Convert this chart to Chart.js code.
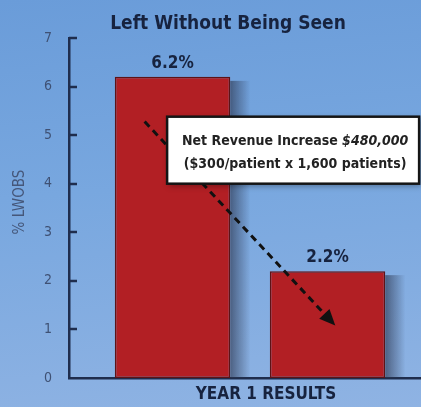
<!DOCTYPE html>
<html>
<head>
<meta charset="utf-8">
<script src="https://cdn.jsdelivr.net/npm/chart.js@4"></script>
<style>
  body { margin: 0; }
  #wrap {
    width: 421px; height: 407px; position: relative;
    background: linear-gradient(175deg, #6a9cd9 0%, #78a7df 45%, #8fb3e3 100%);
  }
</style>
</head>
<body>
<div id="wrap"><canvas id="myChart"></canvas></div>
<script>
// values
const categories = ["Before", "Year 1"];
const lwobs = [6.2, 2.2];
const valueLabels = ["6.2%", "2.2%"];
const yTicks = [0, 1, 2, 3, 4, 5, 6, 7];
const chartTitle = "Left Without Being Seen";
const yTitle = "% LWOBS";
const xTitle = "YEAR 1 RESULTS";
const noteLines = ["Net Revenue Increase ", "$480,000", "($300/patient x 1,600 patients)"];

const FONT = "'Liberation Sans Narrow', 'DejaVu Sans Condensed', Arial, sans-serif";
const NAVY = "#17233f";
const AXIS = "#1f2d4d";

const extras = {
  id: "extras",
  beforeDatasetsDraw(chart) {
    // soft shading to the right of each bar
    const ctx = chart.ctx;
    ctx.save();
    chart.getDatasetMeta(0).data.forEach(function (bar) {
      const right = bar.x + bar.width / 2;
      const g = ctx.createLinearGradient(right, 0, right + 20, 0);
      g.addColorStop(0, "rgba(45, 55, 80, 0.65)");
      g.addColorStop(1, "rgba(45, 55, 80, 0)");
      ctx.fillStyle = g;
      ctx.fillRect(right, bar.y + 4, 20, bar.base - bar.y - 4);
    });
    ctx.restore();
  },
  afterDatasetsDraw(chart) {
    const ctx = chart.ctx;
    const x = chart.scales.x, y = chart.scales.y;
    const area = chart.chartArea;

    // tick marks pointing in
    ctx.save();
    ctx.strokeStyle = AXIS;
    ctx.lineWidth = 2.5;
    yTicks.forEach(function (t) {
      if (t === 0) return;
      const py = Math.round(y.getPixelForValue(t));
      ctx.beginPath();
      ctx.moveTo(area.left, py);
      ctx.lineTo(area.left + 8, py);
      ctx.stroke();
    });
    ctx.restore();

    // value labels
    ctx.save();
    ctx.fillStyle = NAVY;
    ctx.font = "bold 17px " + FONT;
    ctx.textAlign = "center";
    ctx.textBaseline = "bottom";
    chart.getDatasetMeta(0).data.forEach(function (bar, i) {
      ctx.fillText(valueLabels[i], bar.x, bar.y - 5);
    });
    ctx.restore();

    // dashed arrow
    const x0 = x.getPixelForValue(-0.18), y0 = y.getPixelForValue(5.28);
    const x1 = x.getPixelForValue(1.05), y1 = y.getPixelForValue(1.08);
    const ang = Math.atan2(y1 - y0, x1 - x0);
    ctx.save();
    ctx.strokeStyle = "#111";
    ctx.lineWidth = 3;
    ctx.setLineDash([7, 5]);
    ctx.beginPath();
    ctx.moveTo(x0, y0);
    ctx.lineTo(x1 - 10 * Math.cos(ang), y1 - 10 * Math.sin(ang));
    ctx.stroke();
    ctx.setLineDash([]);
    ctx.fillStyle = "#111";
    ctx.beginPath();
    ctx.moveTo(x1, y1);
    ctx.lineTo(x1 - 16 * Math.cos(ang) + 7 * Math.sin(ang), y1 - 16 * Math.sin(ang) - 7 * Math.cos(ang));
    ctx.lineTo(x1 - 16 * Math.cos(ang) - 7 * Math.sin(ang), y1 - 16 * Math.sin(ang) + 7 * Math.cos(ang));
    ctx.closePath();
    ctx.fill();
    ctx.restore();

    // note box
    const bx = x.getPixelForValue(-0.035), by = y.getPixelForValue(5.38);
    const bw = 252, bh = 67;
    ctx.save();
    ctx.shadowColor = "rgba(0,0,0,0.35)";
    ctx.shadowBlur = 6;
    ctx.shadowOffsetX = 2;
    ctx.shadowOffsetY = 2;
    ctx.fillStyle = "#fff";
    ctx.fillRect(bx, by, bw, bh);
    ctx.restore();
    ctx.save();
    ctx.strokeStyle = "#151515";
    ctx.lineWidth = 2.5;
    ctx.strokeRect(bx, by, bw, bh);
    ctx.fillStyle = "#222";
    ctx.font = "bold 14px " + FONT;
    ctx.textBaseline = "middle";
    const w1 = ctx.measureText(noteLines[0]).width;
    ctx.font = "italic bold 14px " + FONT;
    const w2 = ctx.measureText(noteLines[1]).width;
    const cx = bx + bw / 2 + 2;
    let sx = cx - (w1 + w2) / 2;
    ctx.textAlign = "left";
    ctx.font = "bold 14px " + FONT;
    ctx.fillText(noteLines[0], sx, by + 25);
    ctx.font = "italic bold 14px " + FONT;
    ctx.fillText(noteLines[1], sx + w1, by + 25);
    ctx.font = "bold 14px " + FONT;
    ctx.textAlign = "center";
    ctx.fillText(noteLines[2], cx, by + 48);
    ctx.restore();

    // titles
    ctx.save();
    ctx.fillStyle = NAVY;
    ctx.textAlign = "center";
    ctx.textBaseline = "middle";
    ctx.font = "bold 19px " + FONT;
    ctx.fillText(chartTitle, 228, 24);
    ctx.font = "bold 17px " + FONT;
    ctx.fillText(xTitle, 266, 395);
    ctx.fillStyle = "#45577a";
    ctx.font = "15px " + FONT;
    ctx.translate(20, 202);
    ctx.rotate(-Math.PI / 2);
    ctx.fillText(yTitle, 0, 0);
    ctx.restore();
  }
};

const ctx = document.getElementById("myChart").getContext("2d");
new Chart(ctx, {
  type: "bar",
  data: {
    datasets: [
      {
        label: "% LWOBS",
        data: categories.map(function (c, i) { return { x: i, y: lwobs[i] }; }),
        backgroundColor: "#b21f24",
        borderColor: "#5e1316",
        borderWidth: 1.5,
        borderSkipped: false,
        categoryPercentage: 1,
        barPercentage: 0.745
      }
    ]
  },
  options: {
    responsive: true,
    maintainAspectRatio: false,
    animation: false,
    layout: { padding: { top: 38, right: 0, left: 0, bottom: 0 } },
    plugins: {
      legend: { display: false },
      tooltip: { enabled: false }
    },
    scales: {
      x: {
        type: "linear",
        offset: false,
        min: -0.668,
        max: 1.603,
        afterBuildTicks: function (s) { s.ticks = categories.map(function (c, i) { return { value: i }; }); },
        ticks: { display: false },
        grid: { display: false },
        border: { display: true, color: AXIS, width: 2.5 },
        afterFit: function (s) { s.height = 29; }
      },
      y: {
        min: 0,
        max: 7,
        afterBuildTicks: function (s) { s.ticks = yTicks.map(function (v) { return { value: v }; }); },
        ticks: {
          color: "#3f5174",
          padding: 9,
          font: { family: FONT, size: 14 }
        },
        grid: { display: false },
        border: { display: true, color: AXIS, width: 2.5 },
        afterFit: function (s) { s.width = 69; }
      }
    }
  },
  plugins: [extras]
});
</script>
</body>
</html>
